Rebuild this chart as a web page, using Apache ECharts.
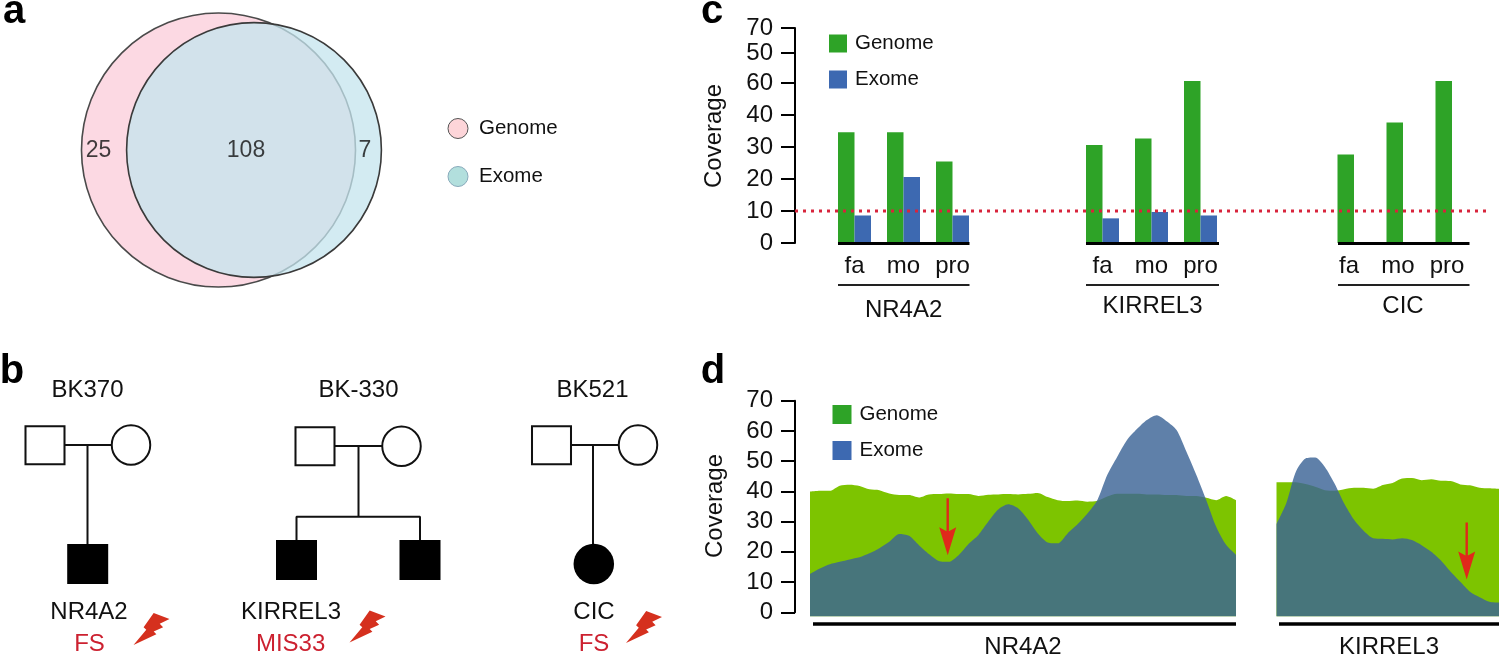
<!DOCTYPE html>
<html>
<head>
<meta charset="utf-8">
<style>html,body{margin:0;padding:0;background:#fff}#c{width:1499px;height:656px}</style>
<script src="https://cdn.jsdelivr.net/npm/echarts@6/dist/echarts.min.js"></script>
</head>
<body>
<div id="c"></div>
<script>
// --- Panel a: set sizes (circle areas are proportional to set totals)
const vennCounts = [25, 108, 7];
// --- Panel c: bar heights are read against the linear tick spacing of the figure axis
const sampleCats = ['fa', 'mo', 'pro'];
const barGenes = ['NR4A2', 'KIRREL3', 'CIC'];
const barGenome = [[34.6, 34.6, 25.5], [30.6, 32.7, 50.6], [27.7, 37.7, 50.6]];
const barExome = [[8.6, 20.6, 8.6], [7.7, 9.7, 8.6], [0, 0, 0]];
const threshold = 10;
// the figure's own axis: labels are printed in this order, at these linear positions
const barTickPos = [0, 10, 20, 30, 40, 50, 59.4, 67.2];
const barTickLabels = ['0', '10', '20', '30', '40', '60', '50', '70'];
// --- Panel d: coverage tracks
const covTicks = [0, 10, 20, 30, 40, 50, 60, 70];
const nr4a2Genome = [39.9,40.2,40.2,41.9,42.2,41.8,40.7,40.4,39.3,38.8,38.8,38,39,39.1,39.3,39.1,39.1,38.5,38.9,39,39.1,39,39.2,39.5,38.1,37.1,36.8,37,36.6,36.9,38.3,39.2,39.2,39.2,39,39,38.8,38.8,38.5,38.5,37.9,37.1,38.5,37.1];
const nr4a2Exome = [12.7,14.5,15.9,16.7,17.5,18.2,19.5,21.2,23.3,25.9,25.3,22.2,19.3,17,16.7,18.9,22.6,25.6,30,34,35.7,34.4,30.7,26.1,23.1,22.8,26.1,29.1,32.7,37.1,45.4,51.4,57,60.6,63.6,65.2,63.2,60.3,53.1,45.4,37.1,28.3,22.3,19];
const kirrel3Genome = [43,43,43,42.4,41.5,40.4,40.2,40.7,41.2,41.2,40.9,42.1,42.8,44.3,44.4,43.7,44,43.5,43.4,42.3,42,41.2,41,40.8];
const kirrel3Exome = [29.2,36,46.5,50.9,51.2,48.1,42.6,36,30.7,27,24.5,24.3,24.1,24.5,23.9,22.2,20,17.1,13.4,10.1,6.8,5,3.5,3.2];
// --- Panel b: pedigree labels
const families = ['BK370', 'BK-330', 'BK521'];
const probandGenes = ['NR4A2', 'KIRREL3', 'CIC'];
const variants = ['FS', 'MIS33', 'FS'];

const FONT = '"Liberation Sans", Arial, sans-serif';
const GREEN = '#2ea327', BLUE = '#3d69b1', DARK = '#111';
const chart = echarts.init(document.getElementById('c'));

const grids = [], xAxes = [], yAxes = [], series = [];
function addGrid(g, x, y) {
  grids.push(g);
  xAxes.push(Object.assign({ gridIndex: grids.length - 1 }, x));
  yAxes.push(Object.assign({ gridIndex: grids.length - 1 }, y));
  return grids.length - 1;
}
const axisFont = { fontFamily: FONT, fontSize: 24, color: '#111' };
const axisStroke = { lineStyle: { color: '#000', width: 2 } };

// Page-scale overlay used for the diagram parts (venn, pedigree, rules, arrows)
const P = addGrid({ left: 0, top: 0, width: 1499, height: 656 },
  { type: 'value', min: 0, max: 1499, show: false },
  { type: 'value', min: 0, max: 656, inverse: true, show: false });

// Panel a ------------------------------------------------------------
const vennUnit = 23.76;
series.push({ type: 'scatter', name: 'Genome', xAxisIndex: P, yAxisIndex: P, z: 2, silent: true,
  data: [[218.5, 150]], symbolSize: vennUnit * Math.sqrt(vennCounts[0] + vennCounts[1]),
  itemStyle: { color: '#fcd9e3', borderColor: '#4a4a4a', borderWidth: 1.6, opacity: 1 } });
series.push({ type: 'scatter', name: 'Exome', xAxisIndex: P, yAxisIndex: P, z: 3, silent: true,
  data: [[254, 150]], symbolSize: vennUnit * Math.sqrt(vennCounts[1] + vennCounts[2]),
  itemStyle: { color: 'rgba(196,228,238,0.75)', borderColor: '#3a3a3a', borderWidth: 1.6, opacity: 1 } });
series.push({ type: 'scatter', name: 'venn counts', xAxisIndex: P, yAxisIndex: P, z: 4, silent: true,
  symbolSize: 0,
  data: [[98.5, 151], [246, 151], [365, 151]].map((p, i) => ({ value: p, count: vennCounts[i] })),
  label: { show: true, position: 'inside', fontFamily: FONT, fontSize: 23, color: '#111',
    formatter: o => String(o.data.count) } });

// Panel b ------------------------------------------------------------
const pedLines = [
  [[45, 445], [131, 445]], [[87.5, 445], [87.5, 545]],
  [[315, 446], [402, 446]], [[358.5, 446], [358.5, 516.7]],
  [[296.5, 541], [296.5, 516.7], [420, 516.7], [420, 541]],
  [[551, 445], [638, 445]], [[593, 445], [593, 545]]
];
pedLines.forEach((d, i) => series.push({ type: 'line', name: 'pedigree ' + i, xAxisIndex: P, yAxisIndex: P, z: 2,
  data: d, symbol: 'none', silent: true, lineStyle: { color: DARK, width: 2 } }));
const pedSym = (name, symbol, size, fill, pts) => series.push({ type: 'scatter', name, xAxisIndex: P, yAxisIndex: P, z: 3,
  silent: true, data: pts, symbol, symbolSize: size,
  itemStyle: { color: fill, borderColor: DARK, borderWidth: fill === '#fff' ? 2 : 0, opacity: 1 } });
pedSym('fathers', 'rect', [39, 38], '#fff', [[45, 445.3], [315, 446.2], [551.5, 445.3]]);
pedSym('mothers', 'circle', [38.5, 39.5], '#fff', [[131, 445], [401.5, 446.2], [638, 445]]);
pedSym('affected sons', 'rect', [41, 40], '#000', [[87.7, 564], [296.5, 560], [420, 560]]);
pedSym('affected daughter', 'circle', [40.5, 40.5], '#000', [[593.8, 564]]);
const BOLT = 'path://M60 0 L107 18 L78 32 L88 42 L60 55 L68 63 L0 95 L38 50 L30 42 Z';
series.push({ type: 'scatter', name: 'bolts', xAxisIndex: P, yAxisIndex: P, z: 3, silent: true,
  data: [[151.5, 629], [367.5, 626.5], [644, 627]], symbol: BOLT, symbolSize: [36, 32],
  itemStyle: { color: '#d5301e', opacity: 1 } });

// Panel c ------------------------------------------------------------
const cTop = 28, cH = 215;
const cAxis = addGrid({ left: 795, top: cTop, width: 693, height: cH },
  { type: 'value', min: 0, max: 1, show: false },
  { type: 'value', min: 0, max: 67.2, splitLine: { show: false },
    axisLine: { show: true, ...axisStroke }, 
    axisTick: { show: true, length: 14, customValues: barTickPos, ...axisStroke },
    axisLabel: { customValues: barTickPos, margin: 22, ...axisFont,
      formatter: v => barTickLabels[barTickPos.indexOf(v)] } });
const groupLeft = [830, 1078, 1329.5];
const groupShift = [0, 0, 10];
barGenes.forEach((g, i) => {
  const gi = addGrid({ left: groupLeft[i], top: cTop, width: 147, height: cH },
    { type: 'category', data: sampleCats, axisLine: { show: false }, axisTick: { show: false },
      axisLabel: { margin: 11, ...axisFont, padding: [0, groupShift[i], 0, 0] } },
    { type: 'value', min: 0, max: 67.2, show: false });
  series.push({ type: 'bar', name: 'Genome', xAxisIndex: gi, yAxisIndex: gi, data: barGenome[i], barWidth: 16.5, barGap: 0,
    itemStyle: { color: GREEN }, z: 2, silent: true });
  series.push({ type: 'bar', name: 'Exome', xAxisIndex: gi, yAxisIndex: gi, data: barExome[i], barWidth: 16.5, barGap: 0,
    itemStyle: { color: BLUE }, z: 2, silent: true });
});
series.push({ type: 'line', name: 'threshold', xAxisIndex: cAxis, yAxisIndex: cAxis, z: 6, symbol: 'none', silent: true,
  data: [[0, threshold], [1, threshold]],
  lineStyle: { color: '#d8243c', width: 3, type: [3, 5], cap: 'butt' } });
const cRules = [[838, 969.5], [1086, 1219], [1338, 1469.5]];
cRules.forEach((r, i) => {
  series.push({ type: 'line', name: 'base ' + i, xAxisIndex: P, yAxisIndex: P, z: 5, symbol: 'none', silent: true,
    data: [[r[0], 243.5], [r[1], 243.5]], lineStyle: { color: '#000', width: 3 } });
  series.push({ type: 'line', name: 'rule ' + i, xAxisIndex: P, yAxisIndex: P, z: 5, symbol: 'none', silent: true,
    data: [[r[0], 285], [r[1], 285]], lineStyle: { color: '#222', width: 2 } });
});

// Panel d ------------------------------------------------------------
addGrid({ left: 795, top: 400.7, width: 10, height: 211.6 },
  { type: 'value', min: 0, max: 1, show: false },
  { type: 'value', min: 0, max: 70, interval: 10, splitLine: { show: false },
    axisLine: { show: true, ...axisStroke },
    axisTick: { show: true, length: 14, customValues: covTicks, ...axisStroke },
    axisLabel: { customValues: covTicks, margin: 22, ...axisFont } });
const tracks = [
  { left: 810, width: 426, g: nr4a2Genome, e: nr4a2Exome },
  { left: 1276.5, width: 222.5, g: kirrel3Genome, e: kirrel3Exome }
];
tracks.forEach(t => {
  const gi = addGrid({ left: t.left, top: 400.7, width: t.width, height: 215.8 },
    { type: 'category', boundaryGap: false, data: t.g.map((_, i) => i), show: false },
    { type: 'value', min: -1.4, max: 70, show: false });
  const mk = (name, data, color, z) => series.push({ type: 'line', name, xAxisIndex: gi, yAxisIndex: gi, data, z,
    smooth: 0.25, symbol: 'none', silent: true, lineStyle: { width: 0 },
    areaStyle: { color, opacity: 1, origin: 'start' } });
  mk('Genome', t.g, '#7dc400', 2);
  mk('Exome', t.e, 'rgba(60,100,150,0.82)', 3);
});
[[813, 1236], [1279, 1499]].forEach((r, i) => series.push({ type: 'line', name: 'track rule ' + i, xAxisIndex: P, yAxisIndex: P, z: 5,
  symbol: 'none', silent: true, data: [[r[0], 624], [r[1], 624]], lineStyle: { color: '#000', width: 3.5 } }));
const ARROW = 'path://M7.3 0 L9.7 0 L9.7 33 L17 29 L8.5 57 L0 29 L7.3 33 Z';
series.push({ type: 'scatter', name: 'arrows', xAxisIndex: P, yAxisIndex: P, z: 7, silent: true,
  data: [[947.7, 526.7], [1466.7, 551]], symbol: ARROW, symbolSize: [17, 57],
  itemStyle: { color: '#e0291b', opacity: 1 } });

// Text -----------------------------------------------------------------
const txt = (text, x, y, o = {}) => ({ type: 'text', x, y, z: 20, silent: true, rotation: o.rot || 0,
  style: { text, fontFamily: FONT, fontSize: o.size || 24, fontWeight: o.weight || 'normal', fill: o.color || '#111',
    align: o.align || 'center', verticalAlign: 'middle' } });
const RED = '#cc2130';
const pedX = [87.5, 358.5, 592.5], geneX = [89, 291, 594], varX = [89.5, 290.6, 594];
const texts = [
  txt('a', 14, 12, { size: 40, weight: 'bold', color: '#000' }),
  txt('b', 12, 372, { size: 40, weight: 'bold', color: '#000' }),
  txt('c', 712, 12, { size: 40, weight: 'bold', color: '#000' }),
  txt('d', 713, 372, { size: 40, weight: 'bold', color: '#000' }),
  txt('Coverage', 714, 136, { rot: Math.PI / 2 }),
  txt('Coverage', 715, 506, { rot: Math.PI / 2 }),
  txt('NR4A2', 1023, 647), txt('KIRREL3', 1389, 647)
];
families.forEach((f, i) => texts.push(txt(f, pedX[i], 390)));
probandGenes.forEach((f, i) => texts.push(txt(f, geneX[i], 612)));
variants.forEach((f, i) => texts.push(txt(f, varX[i], 644, { color: RED })));
const geneCx = [903.6, 1152.5, 1403], geneCy = [310, 306, 306];
barGenes.forEach((g, i) => texts.push(txt(g, geneCx[i], geneCy[i])));

const lg = (left, top, gap, icon, w, h, pad, gs, es) => ({
  left, top, orient: 'vertical', itemGap: gap, icon, itemWidth: w, itemHeight: h, selectedMode: false,
  textStyle: { fontFamily: FONT, fontSize: 20.5, color: '#111', padding: [0, 0, 0, pad] },
  data: [{ name: 'Genome', itemStyle: gs }, { name: 'Exome', itemStyle: es }]
});
chart.setOption({
  animation: false,
  backgroundColor: '#fff',
  grid: grids, xAxis: xAxes, yAxis: yAxes, series,
  legend: [
    lg(442.5, 113, 27, 'circle', 20, 20, 6,
      { color: '#fdd5d9', borderColor: '#555', borderWidth: 1, opacity: 1 },
      { color: '#b2dfdd', borderColor: '#8ab', borderWidth: 1, opacity: 1 }),
    lg(824, 28, 15, 'rect', 18, 18, 3, { color: GREEN, borderWidth: 0 }, { color: BLUE, borderWidth: 0 }),
    lg(827.5, 399, 15, 'rect', 19, 19, 3, { color: GREEN, borderWidth: 0 }, { color: BLUE, borderWidth: 0 })
  ],
  graphic: texts
});
</script>
</body>
</html>
